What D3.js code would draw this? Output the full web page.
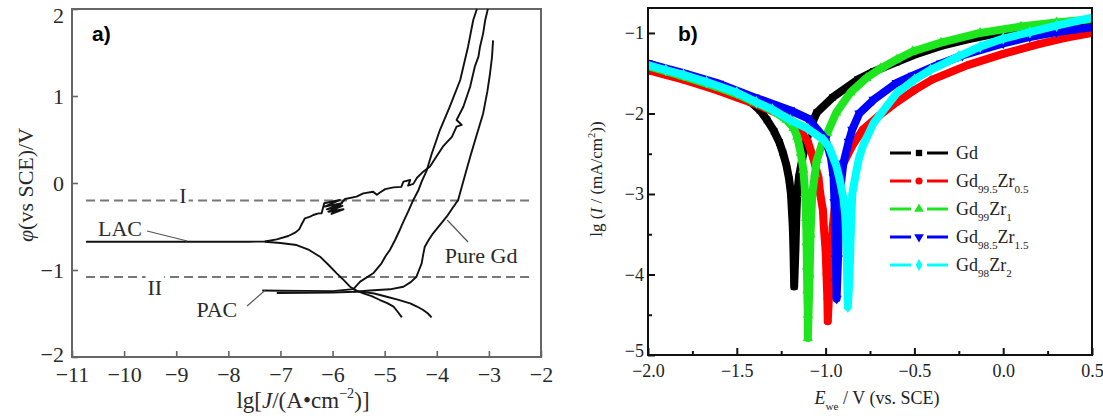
<!DOCTYPE html>
<html><head><meta charset="utf-8">
<script src="https://cdn.jsdelivr.net/npm/d3@7"></script>
<style>body{margin:0;background:#fff}svg{display:block}</style>
</head><body><svg id="c" width="1103" height="418"></svg>
<script>
// ---------------- Panel a data ----------------
const aXTicks = [-11,-10,-9,-8,-7,-6,-5,-4,-3,-2];
const aYTicks = [2,1,0,-1,-2];
const levelI = -0.2, levelII = -1.08;
const levelSpan = [-10.73, -2.21];
const lacAnodic = [[-10.73,-0.675],[-9.5,-0.675],[-8.5,-0.676],[-7.6,-0.675],[-7.3,-0.672],[-7.07,-0.648],[-6.85,-0.609],[-6.72,-0.571],[-6.64,-0.533],[-6.59,-0.471],[-6.53,-0.406],[-6.43,-0.387],[-6.37,-0.368],[-6.27,-0.349],[-6.21,-0.348],[-6.16,-0.233],[-5.86,-0.195],[-6.15,-0.272],[-5.82,-0.233],[-6.11,-0.302],[-5.81,-0.264],[-6.08,-0.33],[-5.79,-0.302],[-6.02,-0.356],[-5.76,-0.184],[-5.54,-0.157],[-5.41,-0.119],[-5.22,-0.1],[-5.15,-0.135],[-5.09,-0.11],[-4.99,-0.07],[-4.83,-0.05],[-4.68,-0.045],[-4.64,0.015],[-4.51,0.034],[-4.55,-0.03],[-4.45,-0.01],[-4.38,0.06],[-4.26,0.13],[-4.13,0.19],[-4.0,0.31],[-3.88,0.42],[-3.71,0.53],[-3.62,0.647],[-3.52,0.667],[-3.62,0.724],[-3.49,0.877],[-3.36,1.107],[-3.27,1.337],[-3.2,1.452],[-3.17,1.567],[-3.11,1.72],[-3.07,1.874],[-3.02,2.0]];
const lacCathodic = [[-7.3,-0.675],[-7.0,-0.69],[-6.69,-0.713],[-6.45,-0.77],[-6.24,-0.847],[-6.08,-0.94],[-5.92,-1.038],[-5.78,-1.12],[-5.665,-1.192],[-5.53,-1.24],[-5.41,-1.268],[-5.25,-1.3],[-5.09,-1.345],[-4.95,-1.38],[-4.83,-1.421],[-4.75,-1.48],[-4.67,-1.544]];
const pacMain = [[-7.35,-1.235],[-7.0,-1.238],[-6.5,-1.24],[-6.0,-1.243],[-5.6,-1.22],[-5.47,-1.134],[-5.22,-1.038],[-5.06,-0.923],[-4.99,-0.847],[-4.9,-0.77],[-4.8,-0.655],[-4.71,-0.54],[-4.64,-0.445],[-4.55,-0.33],[-4.45,-0.195],[-4.35,-0.08],[-4.29,0.015],[-4.19,0.149],[-4.1,0.33],[-3.94,0.609],[-3.75,0.877],[-3.55,1.184],[-3.4,1.567],[-3.3,1.874],[-3.23,2.0]];
const pacCathodic = [[-5.6,-1.245],[-5.47,-1.249],[-5.2,-1.27],[-4.96,-1.307],[-4.75,-1.34],[-4.51,-1.383],[-4.38,-1.42],[-4.26,-1.46],[-4.17,-1.5],[-4.1,-1.544]];
const pureGd = [[-7.07,-1.265],[-6.5,-1.262],[-6.0,-1.258],[-5.57,-1.25],[-5.28,-1.235],[-4.9,-1.222],[-4.64,-1.192],[-4.5,-1.14],[-4.39,-1.077],[-4.34,-1.0],[-4.29,-0.923],[-4.26,-0.82],[-4.23,-0.732],[-4.15,-0.65],[-4.07,-0.578],[-3.95,-0.49],[-3.81,-0.387],[-3.7,-0.29],[-3.59,-0.195],[-3.5,0.0],[-3.36,0.3],[-3.22,0.58],[-3.11,0.8],[-3.03,1.05],[-2.98,1.25],[-2.94,1.45],[-2.92,1.64]];
const aLabels = [
  {t:"LAC", x:-10.08, y:-0.61},
  {t:"PAC", x:-8.22, y:-1.54},
  {t:"Pure Gd", x:-3.15, y:-0.92},
  {t:"I", x:-8.87, y:-0.23, bg:true},
  {t:"II", x:-9.41, y:-1.29, bg:true}
];
const aLeaders = [
  [[-9.56,-0.552],[-8.79,-0.667]],
  [[-7.64,-1.414],[-7.3,-1.235]],
  [[-3.4,-0.678],[-3.8,-0.425]]
];

// ---------------- Panel b data ----------------
const bXTicks = [-2.0,-1.5,-1.0,-0.5,0.0,0.5];
const bXMinor = [-1.75,-1.25,-0.75,-0.25,0.25];
const bYTicks = [-1,-2,-3,-4,-5];
const bYMinor = [-1.5,-2.5,-3.5,-4.5];
const seriesNames = ["Gd","Gd99.5Zr0.5","Gd99Zr1","Gd98.5Zr1.5","Gd98Zr2"];
const seriesColors = ["#000000","#ff0000","#1ee61e","#0000ff","#00ffff"];
const gd = [[-2.0,-1.38],[-1.9,-1.45],[-1.8,-1.52],[-1.7,-1.59],[-1.6,-1.67],[-1.5,-1.76],[-1.42,-1.86],[-1.37,-1.96],[-1.33,-2.08],[-1.29,-2.22],[-1.26,-2.36],[-1.24,-2.49],[-1.22,-2.65],[-1.205,-2.82],[-1.195,-3.0],[-1.19,-3.2],[-1.185,-3.4],[-1.182,-3.6],[-1.18,-3.8],[-1.178,-4.0],[-1.177,-4.15],[-1.17,-3.7],[-1.165,-3.3],[-1.16,-3.0],[-1.15,-2.79],[-1.13,-2.55],[-1.11,-2.35],[-1.09,-2.2],[-1.05,-1.99],[-0.96,-1.8],[-0.82,-1.58],[-0.73,-1.48],[-0.6,-1.36],[-0.5,-1.27],[-0.35,-1.16],[-0.2,-1.08],[0.0,-0.99],[0.15,-0.94],[0.3,-0.89],[0.5,-0.84]];
const gdZr05 = [[-2.0,-1.46],[-1.9,-1.52],[-1.8,-1.58],[-1.7,-1.65],[-1.6,-1.72],[-1.5,-1.8],[-1.4,-1.88],[-1.3,-1.97],[-1.2,-2.07],[-1.14,-2.2],[-1.1,-2.35],[-1.07,-2.55],[-1.04,-2.8],[-1.03,-3.0],[-1.015,-3.2],[-1.01,-3.41],[-1.0,-3.7],[-0.995,-4.0],[-0.99,-4.3],[-0.988,-4.58],[-0.975,-4.0],[-0.965,-3.7],[-0.96,-3.41],[-0.945,-3.1],[-0.93,-2.85],[-0.9,-2.62],[-0.85,-2.4],[-0.79,-2.2],[-0.7,-2.03],[-0.6,-1.86],[-0.5,-1.71],[-0.4,-1.58],[-0.2,-1.4],[0.0,-1.26],[0.2,-1.14],[0.35,-1.06],[0.5,-1.0]];
const gdZr1 = [[-2.0,-1.41],[-1.8,-1.54],[-1.6,-1.68],[-1.5,-1.76],[-1.4,-1.86],[-1.3,-1.96],[-1.22,-2.08],[-1.18,-2.18],[-1.16,-2.29],[-1.14,-2.49],[-1.125,-2.7],[-1.115,-3.0],[-1.11,-3.3],[-1.107,-3.6],[-1.105,-3.9],[-1.103,-4.2],[-1.1,-4.5],[-1.1,-4.79],[-1.09,-4.0],[-1.085,-3.5],[-1.075,-3.0],[-1.06,-2.75],[-1.05,-2.58],[-1.02,-2.38],[-0.99,-2.24],[-0.94,-1.99],[-0.86,-1.74],[-0.77,-1.56],[-0.69,-1.44],[-0.6,-1.33],[-0.51,-1.23],[-0.35,-1.12],[-0.13,-1.0],[0.1,-0.92],[0.3,-0.87],[0.5,-0.83]];
const gdZr15 = [[-2.0,-1.38],[-1.8,-1.5],[-1.6,-1.63],[-1.4,-1.8],[-1.2,-1.96],[-1.1,-2.06],[-1.0,-2.32],[-0.97,-2.55],[-0.955,-2.79],[-0.95,-3.1],[-0.945,-3.41],[-0.942,-3.8],[-0.94,-4.1],[-0.938,-4.3],[-0.93,-3.8],[-0.925,-3.3],[-0.92,-2.99],[-0.9,-2.62],[-0.87,-2.35],[-0.85,-2.2],[-0.81,-2.0],[-0.73,-1.83],[-0.6,-1.62],[-0.51,-1.53],[-0.35,-1.38],[-0.23,-1.28],[0.0,-1.13],[0.15,-1.05],[0.3,-0.99],[0.5,-0.93]];
const gdZr2 = [[-2.0,-1.4],[-1.9,-1.46],[-1.8,-1.52],[-1.67,-1.61],[-1.5,-1.74],[-1.39,-1.86],[-1.3,-1.95],[-1.2,-2.08],[-1.1,-2.19],[-1.01,-2.33],[-0.98,-2.42],[-0.94,-2.65],[-0.92,-2.83],[-0.9,-3.05],[-0.89,-3.25],[-0.885,-3.5],[-0.88,-3.82],[-0.878,-4.1],[-0.875,-4.4],[-0.865,-4.0],[-0.86,-3.6],[-0.855,-3.3],[-0.85,-3.0],[-0.83,-2.75],[-0.81,-2.54],[-0.79,-2.4],[-0.73,-2.12],[-0.6,-1.75],[-0.5,-1.58],[-0.41,-1.46],[-0.25,-1.29],[-0.13,-1.17],[0.0,-1.07],[0.15,-0.99],[0.3,-0.91],[0.5,-0.81]];
const seriesData = [gd, gdZr05, gdZr1, gdZr15, gdZr2];

// ---------------- helpers ----------------
const SERIF = "Liberation Serif, Times New Roman, serif";
const SANS = "Liberation Sans, Arial, sans-serif";
const minus = s => String(s).replace(/-/g, "\u2212");
const svg = d3.select("#c");

function rich(sel, parts, size) {
  let shift = 0;
  parts.forEach(p => {
    const ts = sel.append("tspan").text(p.t);
    let target = 0, fs = size;
    if (p.sub) { target = size * 0.32; fs = size * 0.62; }
    if (p.sup) { target = -size * 0.42; fs = size * 0.62; }
    ts.attr("dy", target - shift).attr("font-size", fs);
    if (p.it) ts.attr("font-style", "italic");
    shift = target;
  });
}

// ================= Panel a =================
const xA = d3.scaleLinear().domain([-11,-2]).range([72,541]);
const yA = d3.scaleLinear().domain([-2,2]).range([357,9]);
const gA = svg.append("g");
const frameA = "#666";

const axAx = gA.append("g").attr("transform", `translate(0,${yA(-2)})`)
  .call(d3.axisBottom(xA).tickValues(aXTicks).tickSize(-6).tickPadding(9).tickFormat(minus));
const axAy = gA.append("g").attr("transform", `translate(${xA(-11)},0)`)
  .call(d3.axisLeft(yA).tickValues(aYTicks).tickSize(-6).tickPadding(8).tickFormat(minus));
[axAx, axAy].forEach(g => {
  g.select(".domain").remove();
  g.selectAll(".tick line").attr("stroke", frameA).attr("stroke-width", 1.6);
  g.selectAll(".tick text").attr("font-family", SERIF).attr("font-size", 22).attr("fill", "#2a2a2a");
});
axAy.selectAll(".tick text").attr("dy", d => d === 2 ? "0.62em" : (d === -2 ? "0.2em" : "0.32em"));
gA.append("rect").attr("x", xA.range()[0]).attr("y", yA.range()[1])
  .attr("width", xA.range()[1]-xA.range()[0]).attr("height", yA.range()[0]-yA.range()[1])
  .attr("fill","none").attr("stroke", frameA).attr("stroke-width", 2);

// dashed levels
[levelI, levelII].forEach(v => {
  gA.append("line").attr("x1", xA(levelSpan[0])).attr("x2", xA(levelSpan[1]))
    .attr("y1", yA(v)).attr("y2", yA(v))
    .attr("stroke", "#777").attr("stroke-width", 2).attr("stroke-dasharray", "9,5");
});

const lineA = d3.line().x(d => xA(d[0])).y(d => yA(d[1]));
[lacAnodic, lacCathodic, pacMain, pacCathodic, pureGd].forEach(arr => {
  gA.append("path").attr("d", lineA(arr)).attr("fill","none")
    .attr("stroke","#111").attr("stroke-width", 1.9).attr("stroke-linejoin","round");
});
aLeaders.forEach(arr => {
  gA.append("path").attr("d", lineA(arr)).attr("fill","none").attr("stroke","#555").attr("stroke-width",1.2);
});
const bgA = gA.append("g");
const labA = gA.append("g");
aLabels.forEach(l => {
  const t = labA.append("text").attr("x", xA(l.x)).attr("y", yA(l.y)).attr("text-anchor","middle")
    .attr("font-family", SERIF).attr("font-size", 22).attr("fill","#2a2a2a").text(l.t);
  if (l.bg) {
    const b = t.node().getBBox();
    bgA.append("rect").attr("x", b.x - 2).attr("y", b.y).attr("width", b.width + 4).attr("height", b.height).attr("fill","#fff");
  }
});
gA.append("text").attr("x", 92).attr("y", 41).attr("font-family", SANS)
  .attr("font-weight","bold").attr("font-size", 21).attr("fill","#000").text("a)");
const yTitleA = gA.append("text").attr("transform", "translate(33,185) rotate(-90)").attr("text-anchor","middle")
  .attr("font-family", SERIF).attr("fill","#2a2a2a");
rich(yTitleA, [{t:"φ", it:true},{t:"(vs SCE)/V"}], 22);
const xTitleA = gA.append("text").attr("x", 303).attr("y", 408).attr("text-anchor","middle")
  .attr("font-family", SERIF).attr("fill","#2a2a2a");
rich(xTitleA, [{t:"lg["},{t:"J", it:true},{t:"/(A•cm"},{t:"−2", sup:true},{t:")]"}], 23);

// ================= Panel b =================
const xB = d3.scaleLinear().domain([-2,0.5]).range([648,1092]);
const yB = d3.scaleLinear().domain([-5,-0.69]).range([355,8]);
const gB = svg.append("g");
svg.append("defs").append("clipPath").attr("id","clipB").append("rect")
  .attr("x", xB.range()[0]).attr("y", yB.range()[1])
  .attr("width", xB.range()[1]-xB.range()[0]).attr("height", yB.range()[0]-yB.range()[1]);

const fmtB = d => minus(d3.format(".1f")(d));
const axBx = gB.append("g").attr("transform", `translate(0,${yB(-5)})`)
  .call(d3.axisBottom(xB).tickValues(bXTicks).tickSize(-7).tickPadding(9).tickFormat(fmtB));
const axBy = gB.append("g").attr("transform", `translate(${xB(-2)},0)`)
  .call(d3.axisLeft(yB).tickValues(bYTicks).tickSize(-7).tickPadding(4).tickFormat(minus));
const axBxm = gB.append("g").attr("transform", `translate(0,${yB(-5)})`)
  .call(d3.axisBottom(xB).tickValues(bXMinor).tickSize(-4).tickFormat(""));
const axBym = gB.append("g").attr("transform", `translate(${xB(-2)},0)`)
  .call(d3.axisLeft(yB).tickValues(bYMinor).tickSize(-4).tickFormat(""));
[axBx, axBy, axBxm, axBym].forEach(g => {
  g.select(".domain").remove();
  g.selectAll(".tick line").attr("stroke", "#111").attr("stroke-width", 2);
  g.selectAll(".tick text").attr("font-family", SERIF).attr("font-size", 18).attr("fill", "#222");
});
axBy.selectAll(".tick text").attr("dy", d => d === -5 ? "0.1em" : "0.32em");

const symbols = [d3.symbolSquare, d3.symbolCircle, d3.symbolTriangle, d3.symbolTriangle, d3.symbolDiamond];
const rotations = [0, 0, 0, 180, 0];
const lineB = d3.line().x(d => xB(d[0])).y(d => yB(d[1]));
const plotB = gB.append("g").attr("clip-path", "url(#clipB)");
seriesData.forEach((arr, i) => {
  plotB.append("path").attr("d", lineB(arr)).attr("fill","none").attr("stroke", seriesColors[i])
    .attr("stroke-width", 8).attr("stroke-linejoin","round");
  plotB.selectAll(null).data(arr).enter().append("path")
    .attr("d", d3.symbol().type(symbols[i]).size(45)())
    .attr("transform", d => `translate(${xB(d[0])},${yB(d[1])}) rotate(${rotations[i]})`)
    .attr("fill", seriesColors[i]);
});
gB.append("rect").attr("x", xB.range()[0]).attr("y", yB.range()[1])
  .attr("width", xB.range()[1]-xB.range()[0]).attr("height", yB.range()[0]-yB.range()[1])
  .attr("fill","none").attr("stroke", "#111").attr("stroke-width", 2);

// legend
const legendParts = [
  [{t:"Gd"}],
  [{t:"Gd"},{t:"99.5",sub:true},{t:"Zr"},{t:"0.5",sub:true}],
  [{t:"Gd"},{t:"99",sub:true},{t:"Zr"},{t:"1",sub:true}],
  [{t:"Gd"},{t:"98.5",sub:true},{t:"Zr"},{t:"1.5",sub:true}],
  [{t:"Gd"},{t:"98",sub:true},{t:"Zr"},{t:"2",sub:true}]
];
const leg = gB.append("g").attr("transform", "translate(890,153)");
seriesNames.forEach((n, i) => {
  const row = leg.append("g").attr("transform", `translate(0,${i*28})`);
  row.append("line").attr("x1",0).attr("x2",21).attr("stroke", seriesColors[i]).attr("stroke-width",3);
  row.append("line").attr("x1",37).attr("x2",58).attr("stroke", seriesColors[i]).attr("stroke-width",3);
  row.append("path").attr("d", d3.symbol().type(symbols[i]).size(40)())
    .attr("transform", `translate(29,0) rotate(${rotations[i]})`).attr("fill", seriesColors[i]);
  const t = row.append("text").attr("x", 66).attr("y", 6).attr("font-family", SERIF).attr("fill","#222");
  rich(t, legendParts[i], 18);
});

gB.append("text").attr("x", 678).attr("y", 41).attr("font-family", SANS)
  .attr("font-weight","bold").attr("font-size", 21).attr("fill","#000").text("b)");
const yTitleB = gB.append("text").attr("transform", "translate(602,179) rotate(-90)").attr("text-anchor","middle")
  .attr("font-family", SERIF).attr("fill","#222");
rich(yTitleB, [{t:"lg ("},{t:"I", it:true},{t:" / (mA/cm"},{t:"2", sup:true},{t:"))"}], 17);
const xTitleB = gB.append("text").attr("x", 877).attr("y", 404).attr("text-anchor","middle")
  .attr("font-family", SERIF).attr("fill","#222");
rich(xTitleB, [{t:"E", it:true},{t:"we", sub:true},{t:" / V (vs. SCE)"}], 18);
</script></body></html>
